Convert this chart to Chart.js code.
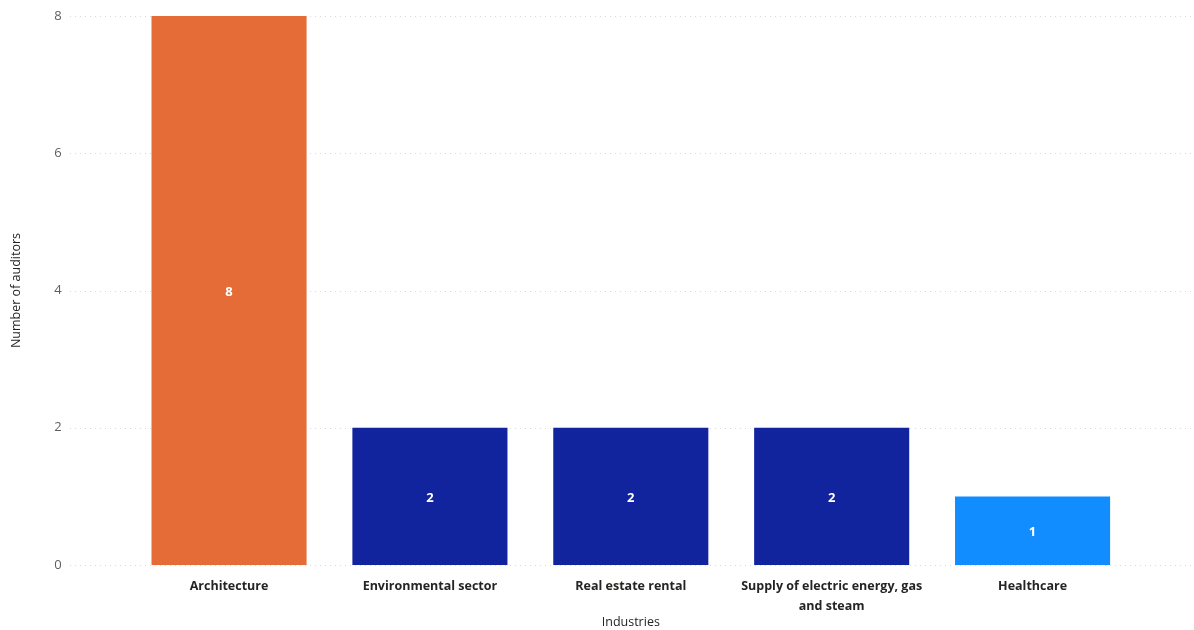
<!DOCTYPE html>
<html>
<head>
<meta charset="utf-8">
<script src="https://cdn.jsdelivr.net/npm/chart.js@4"></script>
<style>
  html, body { margin: 0; padding: 0; background: #fff; overflow: hidden; }
  canvas { display: block; }
</style>
</head>
<body>
<canvas id="myChart" width="1194" height="630"></canvas>
<script>
// data
const industries = [
  "Architecture",
  "Environmental sector",
  "Real estate rental",
  ["Supply of electric energy, gas", "and steam"],
  "Healthcare"
];
const auditors = [8, 2, 2, 2, 1];
const barColors = ["#E66C37", "#12239E", "#12239E", "#12239E", "#118DFF"];
const yTicks = [0, 2, 4, 6, 8];

const font = "'Open Sans', 'Noto Sans', sans-serif";

// dotted horizontal grid lines that run past the bars like in Power BI
const dottedGrid = {
  id: 'dottedGrid',
  beforeDatasetsDraw(chart) {
    const ctx = chart.ctx;
    const y = chart.scales.y;
    ctx.save();
    ctx.strokeStyle = '#D9D9D9';
    ctx.lineWidth = 1;
    ctx.setLineDash([1, 4]);
    yTicks.forEach(v => {
      const py = Math.round(y.getPixelForValue(v)) + 0.5;
      ctx.beginPath();
      ctx.moveTo(70, py);
      ctx.lineTo(1192, py);
      ctx.stroke();
    });
    ctx.restore();
  }
};

// value in the middle of each bar
const barLabels = {
  id: 'barLabels',
  afterDatasetsDraw(chart) {
    const ctx = chart.ctx;
    const meta = chart.getDatasetMeta(0);
    ctx.save();
    ctx.fillStyle = '#FFFFFF';
    ctx.font = "bold 13px " + font;
    ctx.textAlign = 'center';
    ctx.textBaseline = 'middle';
    meta.data.forEach((bar, i) => {
      const mid = (bar.y + bar.base) / 2;
      ctx.fillText(String(auditors[i]), bar.x, mid + 2);
    });
    ctx.restore();
  }
};

const ctx = document.getElementById('myChart');
new Chart(ctx, {
  type: 'bar',
  data: {
    labels: industries,
    datasets: [{
      label: 'Number of auditors',
      data: auditors,
      backgroundColor: barColors,
      borderWidth: 0,
      categoryPercentage: 1,
      barPercentage: 0.772
    }]
  },
  options: {
    responsive: false,
    animation: false,
    layout: { padding: { top: 16, right: 61, bottom: 0, left: 0 } },
    plugins: {
      legend: { display: false },
      tooltip: { enabled: false }
    },
    scales: {
      x: {
        afterFit(scale) { scale.height = 65; },
        grid: { display: false, drawTicks: false },
        border: { display: false },
        ticks: {
          color: '#252423',
          padding: 12,
          maxRotation: 0,
          autoSkip: false,
          font: { family: font, size: 12.5, weight: 'bold', lineHeight: 1.55 }
        },
        title: {
          display: true,
          text: 'Industries',
          color: '#252423',
          padding: { top: 0, bottom: 0 },
          font: { family: font, size: 12.5 }
        }
      },
      y: {
        min: 0,
        max: 8,
        afterFit(scale) {
          scale.width = 128.6;
          // the big tick padding is only there to push labels left
          scale.paddingTop = 8;
          scale.paddingBottom = 8;
        },
        afterBuildTicks(scale) { scale.ticks = yTicks.map(v => ({ value: v })); },
        grid: { display: false, drawTicks: false },
        border: { display: false },
        ticks: {
          color: '#605E5C',
          padding: 67,
          font: { family: font, size: 13 }
        },
        title: {
          display: true,
          text: 'Number of auditors',
          color: '#252423',
          padding: { top: 9, bottom: 0 },
          font: { family: font, size: 12.5 }
        }
      }
    }
  },
  plugins: [dottedGrid, barLabels]
});
</script>
</body>
</html>
